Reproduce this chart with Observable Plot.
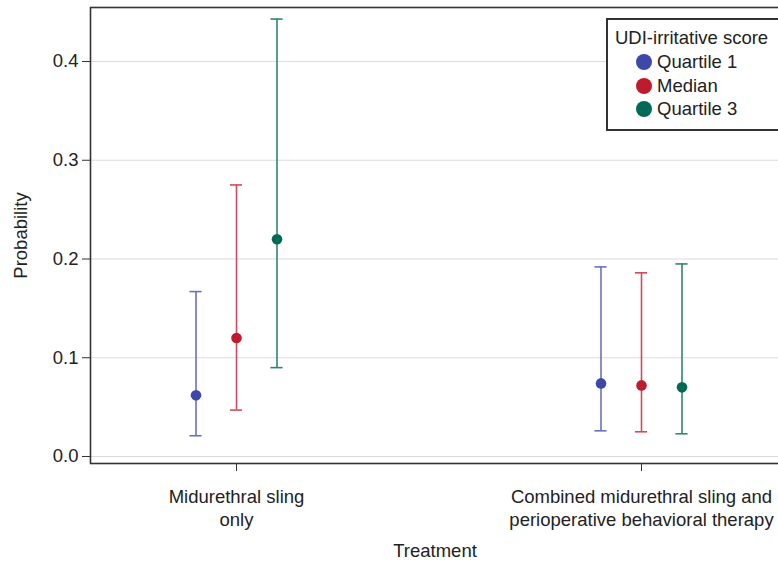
<!DOCTYPE html>
<html>
<head>
<meta charset="utf-8">
<script src="https://cdn.jsdelivr.net/npm/d3@7"></script>
<script src="https://cdn.jsdelivr.net/npm/@observablehq/plot@0.6"></script>
<style>
  html, body { margin: 0; padding: 0; background: #fff; overflow: hidden; }
  #wrap { position: relative; width: 778px; height: 566px; overflow: hidden; }
  #chart svg { max-width: none !important; display: block; }
  #legend { position: absolute; left: 606px; top: 18px; width: 190px; height: 113px;
    border: 2px solid #333; background: #fff; font-family: "Liberation Sans", Arial, sans-serif;
    font-size: 18.5px; color: #222; box-sizing: border-box; }
  #legend .title { position: absolute; left: 7px; top: 7px; white-space: nowrap; line-height: 21px; }
  #legend .item { position: absolute; left: 28px; white-space: nowrap; line-height: 21px; }
  #legend .sw { position: absolute; left: 0px; width: 16px; height: 16px; border-radius: 50%; top: 3px; }
  #legend .lab { position: absolute; left: 21px; top: 0; }
</style>
</head>
<body>
<div id="wrap"><div id="chart"></div><div id="legend"></div></div>
<script>
const treatments = ["Midurethral sling\nonly", "Combined midurethral sling and\nperioperative behavioral therapy"];
const series = ["Quartile 1", "Median", "Quartile 3"];
const legendTitle = "UDI-irritative score";
const xLabel = "Treatment";
const yLabel = "Probability";
// per treatment, per series
const estimate = [[0.062, 0.120, 0.220], [0.074, 0.072, 0.070]];
const lower    = [[0.021, 0.047, 0.090], [0.026, 0.025, 0.023]];
const upper    = [[0.167, 0.275, 0.443], [0.192, 0.186, 0.195]];
const yTicks = [0.0, 0.1, 0.2, 0.3, 0.4];
const dotColors = ["#3d49a8", "#bf1b2f", "#006a55"];
const barColors = ["#6b72c0", "#d24b5c", "#2f8572"];

const offset = 0.1;   // dodge between series, in group units
const cap = 0.015;    // half width of error caps

const rows = [];
treatments.forEach((t, i) => series.forEach((s, j) => rows.push({
  treatment: t, series: s, x: i + (j - 1) * offset,
  est: estimate[i][j], lo: lower[i][j], hi: upper[i][j]
})));

const font = "'Liberation Sans', Arial, sans-serif";
const chart = Plot.plot({
  width: 790, height: 566,
  marginLeft: 90, marginRight: 3, marginTop: 7, marginBottom: 103,
  style: { fontFamily: font, fontSize: "18.5px", color: "#333", background: "#fff", maxWidth: "none" },
  x: { domain: [-0.3605, 1.3605] },
  y: { domain: [-0.0071, 0.4547] },
  color: { domain: series, range: barColors },
  marks: [
    Plot.gridY(yTicks, { stroke: "#dcdcdc", strokeOpacity: 1, strokeWidth: 1.2 }),
    Plot.axisY(yTicks, { tickSize: 8, tickPadding: 4, tickFormat: d3.format(".1f"), label: yLabel, labelAnchor: "center", labelArrow: "none", labelOffset: 77, stroke: "#333", fill: "#222", fontSize: 18.5 }),
    Plot.axisX([0, 1], { tickSize: 8, tickPadding: 15, tickFormat: i => treatments[i], label: null, lineHeight: 1.25, stroke: "#333", fill: "#222", fontSize: 18.5 }),
    Plot.ruleX(rows, { x: "x", y1: "lo", y2: "hi", stroke: "series", strokeWidth: 1.6 }),
    Plot.ruleY(rows, { y: "lo", x1: d => d.x - cap, x2: d => d.x + cap, stroke: "series", strokeWidth: 1.6 }),
    Plot.ruleY(rows, { y: "hi", x1: d => d.x - cap, x2: d => d.x + cap, stroke: "series", strokeWidth: 1.6 }),
    Plot.dot(rows, { x: "x", y: "est", r: 5.3, fill: d => dotColors[series.indexOf(d.series)], stroke: "none" }),
    Plot.frame({ stroke: "#333", strokeWidth: 1.6 }),
    Plot.text([xLabel], { frameAnchor: "bottom", dy: 93, dx: -4, fill: "#222", fontSize: 18.5 })
  ]
});
document.getElementById("chart").appendChild(chart);

const leg = document.getElementById("legend");
const t = document.createElement("div"); t.className = "title"; t.textContent = legendTitle; leg.appendChild(t);
series.forEach((s, j) => {
  const it = document.createElement("div"); it.className = "item"; it.style.top = (31 + j * 23.5) + "px";
  const sw = document.createElement("span"); sw.className = "sw"; sw.style.background = dotColors[j];
  const lb = document.createElement("span"); lb.className = "lab"; lb.textContent = s;
  it.appendChild(sw); it.appendChild(lb); leg.appendChild(it);
});
</script>
</body>
</html>
